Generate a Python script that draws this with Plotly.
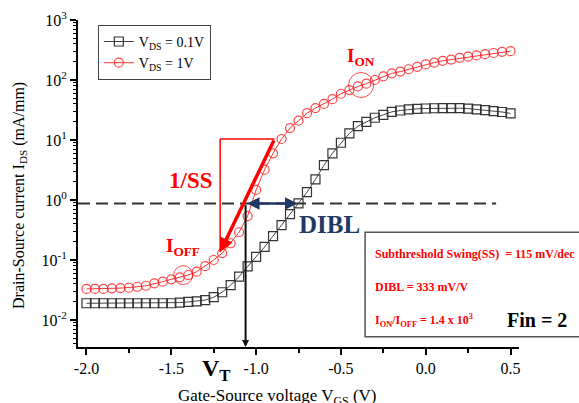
import math
import plotly.graph_objects as go

# ---------------- data ----------------
vgs = [-2.0, -1.95, -1.9, -1.85, -1.8, -1.75, -1.7, -1.65, -1.6, -1.55,
       -1.5, -1.45, -1.4, -1.35, -1.3, -1.25, -1.2, -1.15, -1.1, -1.05,
       -1.0, -0.95, -0.9, -0.85, -0.8, -0.75, -0.7, -0.65, -0.6, -0.55,
       -0.5, -0.45, -0.4, -0.35, -0.3, -0.25, -0.2, -0.15, -0.1, -0.05,
       0.0, 0.05, 0.1, 0.15, 0.2, 0.25, 0.3, 0.35, 0.4, 0.45, 0.5]

ids_vds01 = [0.019, 0.019, 0.019, 0.019, 0.019, 0.019, 0.019, 0.019, 0.019, 0.019,
             0.019, 0.0195, 0.020, 0.0205, 0.0215, 0.024, 0.029, 0.038, 0.053, 0.078,
             0.113, 0.165, 0.25, 0.38, 0.58, 0.88, 1.35, 2.2, 3.8, 6.0,
             9.0, 12.9, 17.0, 20.0, 23.5, 26.3, 29.5, 31.0, 32.4, 33.1,
             33.5, 33.8, 34.0, 34.0, 33.9, 33.4, 32.5, 31.5, 30.3, 29.3, 27.8]

ids_vds1 = [0.033, 0.033, 0.033, 0.0337, 0.034, 0.0345, 0.0358, 0.0372, 0.0408, 0.0435,
            0.0476, 0.0515, 0.0562, 0.0638, 0.079, 0.100, 0.130, 0.19, 0.29, 0.54,
            1.47, 3.2, 6.0, 10.4, 15.8, 21.0, 28.0, 34.0, 40.0, 48.0,
            59.0, 68.0, 78.0, 87.0, 100.0, 115.0, 129.0, 138.0, 151.0, 166.0,
            182.0, 195.0, 209.0, 219.0, 234.0, 245.0, 257.0, 269.0, 282.0, 295.0, 302.0]

x_tickvals = [-2.0, -1.5, -1.0, -0.5, 0.0, 0.5]
x_ticktext = ["-2.0", "-1.5", "-1.0", "-0.5", "0.0", "0.5"]
y_tickvals = [1e-2, 1e-1, 1, 10, 100, 1000]
y_ticktext = ["10<sup>-2</sup>", "10<sup>-1</sup>", "10<sup>0</sup>",
              "10<sup>1</sup>", "10<sup>2</sup>", "10<sup>3</sup>"]

# annotation reference values
v_t = -1.062          # threshold voltage (V_DS = 1V)
v_t_low = -0.756      # threshold voltage (V_DS = 0.1V)
i_ref = 0.875         # constant current reference level
ss_x = [-1.212, -0.891]
ss_y = [0.136, 10.4]
ioff_pt = (-1.43, 0.056)
ion_pt = (-0.381, 82.5)

FONT = "Times New Roman, Liberation Serif, serif"
RED = "#ff0000"
NAVY = "#1f3864"

fig = go.Figure()
fig.add_trace(go.Scatter(
    x=vgs, y=ids_vds01, mode="lines+markers", name="V<sub>DS</sub> = 0.1V",
    line=dict(color="#444444", width=1),
    marker=dict(symbol="square-open", size=9, color="#333333", line=dict(width=1.2))))
fig.add_trace(go.Scatter(
    x=vgs, y=ids_vds1, mode="lines+markers", name="V<sub>DS</sub> = 1V",
    line=dict(color="rgba(255,0,0,0.8)", width=1),
    marker=dict(symbol="circle-open", size=9, color="rgba(255,40,40,0.85)", line=dict(width=1.2))))
# highlight circles for I_OFF / I_ON
fig.add_trace(go.Scatter(
    x=[ioff_pt[0], ion_pt[0]], y=[ioff_pt[1], ion_pt[1]], mode="markers", showlegend=False,
    hoverinfo="skip",
    marker=dict(symbol="circle-open", size=[19, 25], color=RED, line=dict(width=1))))

shapes = []
# dashed reference line
shapes.append(dict(type="line", xref="x", yref="y", x0=-2.05, x1=0.415, y0=i_ref, y1=i_ref,
                   line=dict(color="#333333", width=2, dash="12px,6px")))
# SS triangle thin lines
shapes.append(dict(type="line", xref="x", yref="y", x0=ss_x[0], x1=ss_x[0], y0=ss_y[0], y1=ss_y[1],
                   line=dict(color=RED, width=1.5)))
shapes.append(dict(type="line", xref="x", yref="y", x0=ss_x[0], x1=ss_x[1], y0=ss_y[1], y1=ss_y[1],
                   line=dict(color=RED, width=1.5)))
# info box
shapes.append(dict(type="rect", xref="paper", yref="paper", x0=0.651, x1=1.2, y0=0.0315, y1=0.351,
                   line=dict(color="#555555", width=1.5), fillcolor="rgba(0,0,0,0)"))

annotations = []
# SS thick arrow
annotations.append(dict(x=ss_x[0], y=math.log10(ss_y[0]), ax=ss_x[1], ay=math.log10(ss_y[1]),
                        xref="x", yref="y", axref="x", ayref="y", text="", showarrow=True,
                        arrowhead=2, arrowsize=0.8, arrowwidth=3.5, arrowcolor=RED, standoff=0))
# DIBL arrow
annotations.append(dict(x=v_t_low, y=math.log10(i_ref), ax=v_t, ay=math.log10(i_ref),
                        xref="x", yref="y", axref="x", ayref="y", text="", showarrow=True,
                        arrowhead=2, arrowside="end+start", arrowsize=1, arrowwidth=2.5,
                        arrowcolor=NAVY, standoff=0, startstandoff=0))
# V_T vertical arrow
annotations.append(dict(x=v_t, y=-2.45, ax=v_t, ay=math.log10(i_ref),
                        xref="x", yref="y", axref="x", ayref="y", text="", showarrow=True,
                        arrowhead=2, arrowsize=0.7, arrowwidth=2, arrowcolor="#111111", standoff=0))

def txt(x, y, s, size, color, xanchor="center", yanchor="middle", angle=0):
    annotations.append(dict(x=x, y=y, xref="paper", yref="paper", text=s, showarrow=False,
                            xanchor=xanchor, yanchor=yanchor, textangle=angle,
                            font=dict(family=FONT, size=size, color=color)))

txt(0.254, 0.508, "<b>1/SS</b>", 23, RED)
txt(0.238, 0.306, "<b>I<sub>OFF</sub></b>", 19, RED)
txt(0.642, 0.887, "<b>I<sub>ON</sub></b>", 19, RED)
txt(0.571, 0.376, "<b>DIBL</b>", 25, NAVY)
txt(0.315, -0.07, "<b>V<sub>T</sub></b>", 24, "black")
txt(0.668, 0.284, "<b>Subthreshold Swing(SS)  = 115 mV/dec</b>", 12, RED, xanchor="left")
txt(0.668, 0.183, "<b>DIBL = 333 mV/V</b>", 12, RED, xanchor="left")
txt(0.668, 0.080, "<b>I<sub>ON</sub>/I<sub>OFF</sub> = 1.4 x 10<sup>3</sup></b>", 12, RED, xanchor="left")
txt(1.040, 0.083, "<b>Fin = 2</b>", 20, "black")
# axis titles
txt(0.4535, -0.152, "Gate-Source voltage V<sub>GS</sub> (V)", 17, "black")
txt(-0.1315, 0.462, "Drain-Source current I<sub>DS</sub> (mA/mm)", 16, "black", angle=-90)

fig.update_layout(
    width=579, height=403,
    margin=dict(l=78, r=60, t=20, b=56, autoexpand=False),
    paper_bgcolor="white", plot_bgcolor="white",
    font=dict(family=FONT, size=16, color="black"),
    shapes=shapes, annotations=annotations,
    showlegend=True,
    legend=dict(x=0.045, y=0.985, xanchor="left", yanchor="top",
                bordercolor="#444444", borderwidth=1, bgcolor="white",
                font=dict(family=FONT, size=14, color="black"),
                tracegroupgap=0, itemwidth=30),
)
fig.update_xaxes(
    range=[-2.05, 0.55], showgrid=False, zeroline=False, automargin=False,
    showline=True, linecolor="black", linewidth=2, mirror=False,
    tickmode="array", tickvals=x_tickvals, ticktext=x_ticktext,
    ticks="outside", ticklen=6, tickwidth=1.5, tickcolor="black",
    minor=dict(dtick=0.25, tick0=0, ticks="outside", ticklen=4, tickwidth=1.5, tickcolor="black"),
    tickfont=dict(family=FONT, size=16),
)
fig.update_yaxes(
    type="log", range=[-2.45, 3.0], showgrid=False, zeroline=False, automargin=False,
    showline=True, linecolor="black", linewidth=2, mirror=False,
    tickmode="array", tickvals=y_tickvals, ticktext=y_ticktext,
    ticks="outside", ticklen=6, tickwidth=1.5, tickcolor="black",
    minor=dict(dtick="D1", ticks="outside", ticklen=3, tickwidth=1, tickcolor="black"),
    tickfont=dict(family=FONT, size=16),
)

fig.write_html("out.html", config={"displayModeBar": False},
               post_script="document.body.style.margin='0px';")
